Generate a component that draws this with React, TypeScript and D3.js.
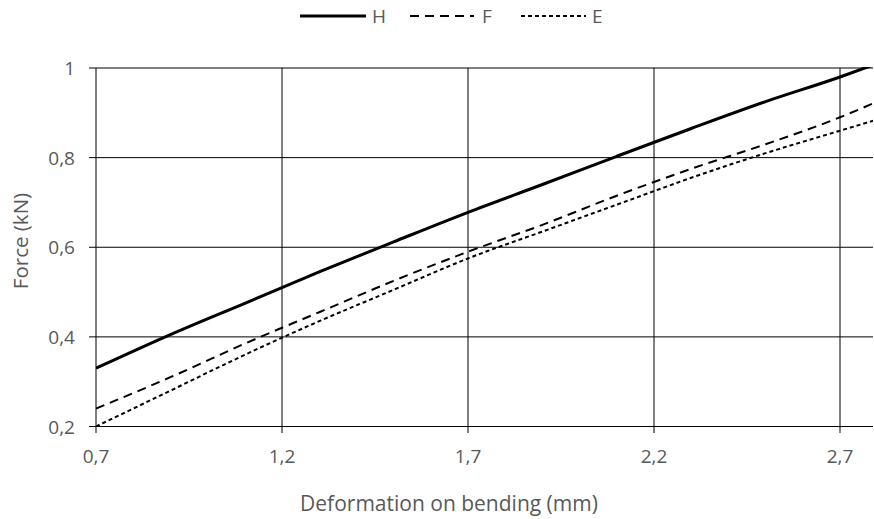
import React from 'react'
import * as d3 from 'd3'

const xValues = [0.7, 0.9, 1.1, 1.3, 1.5, 1.7, 1.9, 2.1, 2.3, 2.5, 2.7, 2.8]
const seriesH = [0.33, 0.405, 0.475, 0.545, 0.612, 0.678, 0.74, 0.803, 0.865, 0.925, 0.98, 1.01]
const seriesF = [0.24, 0.31, 0.385, 0.455, 0.525, 0.59, 0.65, 0.715, 0.775, 0.83, 0.89, 0.925]
const seriesE = [0.2, 0.28, 0.36, 0.435, 0.505, 0.575, 0.635, 0.695, 0.755, 0.81, 0.86, 0.885]
const xTicks = [0.7, 1.2, 1.7, 2.2, 2.7]
const yTicks = [0.2, 0.4, 0.6, 0.8, 1]

const series = [
  { name: 'H', values: seriesH, width: 3, dash: null },
  { name: 'F', values: seriesF, width: 2, dash: '9 6' },
  { name: 'E', values: seriesE, width: 2, dash: '4 3' },
]

const W = 874
const H = 519
const margin = { top: 68, right: 1, bottom: 93, left: 96 }
const font = '"Open Sans", sans-serif'
const textColor = '#595959'

const App = () => {
  const innerW = W - margin.left - margin.right
  const innerH = H - margin.top - margin.bottom

  const x = d3.scaleLinear().domain([0.7, 0.7 + innerW / 372]).range([0, innerW])
  const y = d3.scaleLinear().domain([0.2, 1]).range([innerH + 0.5, 0])

  const line = (vals) =>
    d3
      .line()
      .x((d, i) => x(xValues[i]))
      .y((d) => y(d))
      .curve(d3.curveMonotoneX)(vals)

  const fmt = (v) => String(v).replace('.', ',')

  const legendItems = [
    { s: series[0], x0: 300, x1: 366, tx: 372 },
    { s: series[1], x0: 410, x1: 474, tx: 482 },
    { s: series[2], x0: 521, x1: 586, tx: 592 },
  ]

  return (
    <svg
      width={W}
      height={H}
      style={{ position: 'absolute', left: 0, top: 0, background: '#fff' }}
      fontFamily={font}
    >
      <defs>
        <clipPath id="plot-clip">
          <rect x={0} y={-1} width={innerW} height={innerH + 2} />
        </clipPath>
      </defs>

      {/* legend */}
      {legendItems.map((it) => (
        <g key={it.s.name}>
          <line
            x1={it.x0}
            x2={it.x1}
            y1={16}
            y2={16}
            stroke="#000"
            strokeWidth={it.s.width}
            strokeDasharray={it.s.dash || undefined}
          />
          <text x={it.tx} y={23} fontSize={19} fill={textColor}>
            {it.s.name}
          </text>
        </g>
      ))}

      <g transform={`translate(${margin.left},${margin.top})`}>
        {/* horizontal grid */}
        {yTicks.map((t) => (
          <g key={'y' + t}>
            <line x1={-7} x2={innerW} y1={y(t)} y2={y(t)} stroke="#000" strokeWidth={1} />
            <text
              x={-21}
              y={y(t) + 7}
              textAnchor="end"
              fontSize={19}
              fill={textColor}
            >
              {fmt(t)}
            </text>
          </g>
        ))}
        {/* vertical grid */}
        {xTicks.map((t) => (
          <g key={'x' + t}>
            <line x1={x(t)} x2={x(t)} y1={0} y2={innerH + 7} stroke="#000" strokeWidth={1} />
            <text
              x={x(t)}
              y={innerH + 21}
              textAnchor="middle"
              fontSize={19}
              fill={textColor}
              dominantBaseline="hanging"
            >
              {fmt(t)}
            </text>
          </g>
        ))}

        <g clipPath="url(#plot-clip)">
          {series.map((s) => (
            <path
              key={s.name}
              d={line(s.values)}
              fill="none"
              stroke="#000"
              strokeWidth={s.width}
              strokeDasharray={s.dash || undefined}
            />
          ))}
        </g>

        <text
          transform={`translate(${-68},${innerH / 2 - 6}) rotate(-90)`}
          textAnchor="middle"
          fontSize={20.5}
          fill={textColor}
        >
          Force (kN)
        </text>
        <text
          x={449 - margin.left}
          y={innerH + 85}
          textAnchor="middle"
          fontSize={21}
          fill={textColor}
        >
          Deformation on bending (mm)
        </text>
      </g>
    </svg>
  )
}

export default App
